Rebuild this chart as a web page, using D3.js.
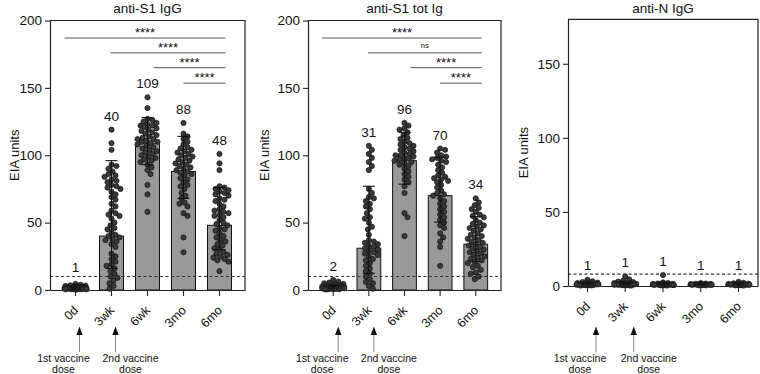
<!DOCTYPE html>
<html>
<head>
<meta charset="utf-8">
<script src="https://cdn.jsdelivr.net/npm/d3@7"></script>
<style>
  body { margin: 0; background: #fff; }
  svg { display: block; font-family: "Liberation Sans", Arial, sans-serif; }
</style>
</head>
<body>
<svg width="760" height="374"></svg>
<script>
// ---- data ----
const timepoints = ["0d", "3wk", "6wk", "3mo", "6mo"];
const panelTitles = ["anti-S1 IgG", "anti-S1 tot Ig", "anti-N IgG"];
const yLabel = "EIA units";
const doseNotes = [["1st vaccine", "dose"], ["2nd vaccine", "dose"]];

// anti-S1 IgG
const s1IggBars = [1, 40, 109, 88, 48];
const s1IggLow = [0.6, 16, 93, 68, 30];
const s1IggHigh = [1.7, 96, 128, 114, 76];
const s1IggDots = [
  [0.3, 0.4, 0.5, 0.5, 0.6, 0.6, 0.7, 0.7, 0.8, 0.8, 0.9, 0.9, 1, 1, 1, 1.1, 1.1, 1.2, 1.2, 1.3, 1.3, 1.4, 1.5, 1.5, 1.6, 1.7, 1.8, 1.9, 2, 2.1, 2.2, 2.4, 2.5, 2.7, 3, 3.2, 3.5, 3.9, 4.5],
  [119, 109, 104, 93, 92, 90, 88, 86, 85, 84, 82, 81, 80, 78, 77, 76, 75, 73, 71, 69, 67, 64, 62, 59, 57, 56, 55, 53, 50, 48, 46, 45, 43, 41, 40, 39, 38, 37, 36, 34, 32, 27, 25, 23, 21, 19, 18, 16, 14, 12, 10, 9, 7, 5, 3, 1],
  [143, 135, 127, 126, 125, 124, 123, 122, 122, 121, 120, 119, 118, 117, 116, 115, 114, 113, 112, 112, 111, 110, 110, 109, 108, 107, 106, 105, 104, 103, 102, 101, 100, 99, 98, 97, 96, 95, 93, 91, 89, 86, 78, 71, 58],
  [124, 116, 114, 112, 110, 108, 106, 105, 104, 103, 102, 101, 100, 99, 98, 97, 96, 95, 94, 93, 92, 91, 90, 89, 88, 87, 86, 85, 83, 82, 80, 78, 77, 75, 72, 70, 68, 65, 64, 62, 57, 55, 39, 28],
  [101, 94, 89, 77, 76, 75, 74, 73, 72, 71, 70, 68, 67, 66, 64, 62, 60, 59, 58, 57, 56, 55, 54, 52, 50, 49, 48, 46, 45, 44, 42, 40, 39, 37, 36, 34, 33, 31, 30, 28, 27, 26, 25, 24, 23, 22, 21, 14]
];
const s1IggSig = [["0d", "6mo", "****"], ["3wk", "6mo", "****"], ["6wk", "6mo", "****"], ["3mo", "6mo", "****"]];

// anti-S1 total Ig
const s1TotBars = [2, 31, 96, 70, 34];
const s1TotLow = [1.3, 12.4, 78.6, 50.4, 21];
const s1TotHigh = [3, 77, 117, 98.4, 54.4];
const s1TotDots = [
  [0.4, 0.5, 0.6, 0.7, 0.8, 0.9, 1, 1, 1.1, 1.2, 1.3, 1.4, 1.5, 1.5, 1.6, 1.7, 1.8, 1.9, 2, 2, 2.1, 2.2, 2.3, 2.4, 2.5, 2.6, 2.8, 3, 3.2, 3.4, 3.7, 4, 4.5, 5, 5.5, 6.3, 7.5],
  [107, 104, 101, 98, 95, 92, 89, 75, 72, 69, 68, 66, 64, 62, 60, 57, 54, 53, 50, 47, 45, 41, 37, 36, 35, 34, 33, 32, 31, 30, 29, 28, 27, 26, 25, 23, 22, 20, 18, 16, 14, 12, 10, 8, 6, 5, 3, 1],
  [124, 122, 120, 119, 117, 115, 113, 112, 110, 109, 108, 107, 106, 105, 104, 103, 102, 101, 100, 100, 99, 98, 98, 97, 96, 95, 94, 93, 92, 90, 88, 86, 84, 82, 80, 77, 72, 57, 54, 40],
  [105, 104, 102, 100, 99, 98, 97, 96, 95, 93, 91, 89, 87, 85, 84, 83, 82, 81, 80, 78, 76, 74, 72, 71, 70, 68, 66, 64, 62, 60, 58, 56, 54, 52, 50, 48, 46, 42, 39, 36, 32, 18],
  [68, 65, 63, 61, 60, 58, 56, 55, 54, 52, 50, 49, 48, 47, 46, 45, 44, 42, 41, 40, 39, 38, 37, 36, 35, 34, 33, 32, 31, 30, 29, 28, 27, 26, 25, 24, 23, 22, 21, 20, 18, 17, 15, 13, 12, 10, 8]
];
const s1TotSig = [["0d", "6mo", "****"], ["3wk", "6mo", "ns"], ["6wk", "6mo", "****"], ["3mo", "6mo", "****"]];

// anti-N IgG
const nIggBars = [1, 1, 1, 1, 1];
const nIggLow = [0.7, 0.7, 0.7, 0.8, 0.7];
const nIggHigh = [1.6, 1.8, 1.5, 1.3, 1.5];
const nIggDots = [
  [0.3, 0.4, 0.5, 0.5, 0.6, 0.7, 0.7, 0.8, 0.8, 0.9, 0.9, 1, 1, 1, 1.1, 1.1, 1.2, 1.2, 1.3, 1.4, 1.5, 1.6, 1.8, 2, 2.3, 2.7, 3.2, 4.2],
  [0.3, 0.4, 0.5, 0.6, 0.6, 0.7, 0.8, 0.8, 0.9, 0.9, 1, 1, 1.1, 1.1, 1.2, 1.3, 1.4, 1.5, 1.6, 1.8, 2, 2.2, 2.6, 3, 3.6, 4.5, 6.5],
  [0.3, 0.4, 0.5, 0.5, 0.6, 0.7, 0.7, 0.8, 0.8, 0.9, 1, 1, 1, 1.1, 1.1, 1.2, 1.3, 1.4, 1.5, 1.7, 2, 2.4, 7.4],
  [0.4, 0.5, 0.6, 0.6, 0.7, 0.8, 0.8, 0.9, 0.9, 1, 1, 1, 1.1, 1.1, 1.2, 1.2, 1.3, 1.4, 1.5, 1.7, 2],
  [0.3, 0.4, 0.5, 0.6, 0.6, 0.7, 0.8, 0.8, 0.9, 1, 1, 1, 1.1, 1.1, 1.2, 1.3, 1.4, 1.6, 1.8, 2.2, 2.8]
];

const cutoffs = [10, 10, 8];
const sigLevels = [187, 176, 165, 153.5];   // y value of each comparison line

// ---- layout ----
const svg = d3.select("svg");
const FONT = 13.5;
const DOT_R = 2.6;
const sigStartNudge = [-11, -1, 6, 0];
const sigEndNudge = 6;

const panels = [
  { title: panelTitles[0], left: 50, right: 245, top: 20.5, bottom: 290, yMax: 200, ticks: [0, 50, 100, 150, 200],
    outer: 0.375, bars: s1IggBars, low: s1IggLow, high: s1IggHigh, dots: s1IggDots, sig: s1IggSig,
    cutoff: cutoffs[0], labelOff: 36, arrowDx: 4 },
  { title: panelTitles[1], left: 308, right: 501, top: 20.5, bottom: 290, yMax: 200, ticks: [0, 50, 100, 150, 200],
    outer: 0.375, bars: s1TotBars, low: s1TotLow, high: s1TotHigh, dots: s1TotDots, sig: s1TotSig,
    cutoff: cutoffs[1], labelOff: 44, arrowDx: 5 },
  { title: panelTitles[2], left: 568, right: 758, top: 19.3, bottom: 286, yMax: 180, ticks: [0, 50, 100, 150],
    outer: 0.183, bars: nIggBars, low: nIggLow, high: nIggHigh, dots: nIggDots, sig: [],
    cutoff: cutoffs[2], labelOff: 45, arrowDx: 8.5 }
];

// simple beeswarm: nudge each dot sideways until it does not sit on an earlier one
function swarm(values, y, r, maxHalf) {
  const placed = [];
  const minD = r * 1.8;
  values.slice().sort((a, b) => b - a).forEach(v => {
    const py = y(v);
    let best = 0, bestD = -1;
    for (let k = 0; k <= maxHalf * 2; k++) {
      const off = (k % 2 ? 1 : -1) * Math.ceil(k / 2);
      let d = Infinity;
      placed.forEach(p => {
        const dd = Math.hypot(p.dx - off, p.py - py);
        if (dd < d) d = dd;
      });
      if (d >= minD) { best = off; bestD = d; break; }
      if (d > bestD + 0.8) { bestD = d; best = off; }
    }
    placed.push({ v: v, dx: best, py: py });
  });
  return placed;
}

panels.forEach(p => {
  const g = svg.append("g");

  const x = d3.scaleBand()
    .domain(timepoints)
    .range([p.left, p.right])
    .paddingInner(1 / 3)
    .paddingOuter(p.outer);
  const bw = x.bandwidth();
  const cx = d => x(d) + bw / 2;

  const y = d3.scaleLinear()
    .domain([0, p.yMax])
    .range([p.bottom, p.top]);

  // title
  g.append("text")
    .attr("x", (p.left + p.right) / 2)
    .attr("y", 12.5)
    .attr("text-anchor", "middle")
    .attr("font-size", "13.5px")
    .attr("fill", "#111")
    .text(p.title);

  // frame (top + right)
  g.append("path")
    .attr("d", `M${p.left},${p.top}H${p.right}V${p.bottom}`)
    .attr("fill", "none")
    .attr("stroke", "#222")
    .attr("stroke-width", 1.2);

  // bars
  g.selectAll(".bar")
    .data(p.bars)
    .enter()
    .append("rect")
    .attr("class", "bar")
    .attr("x", (d, i) => x(timepoints[i]))
    .attr("width", bw)
    .attr("y", d => y(d))
    .attr("height", d => p.bottom - y(d))
    .attr("fill", "#999999")
    .attr("stroke", "#111")
    .attr("stroke-width", 1);

  // dots
  p.dots.forEach((vals, i) => {
    const sw = swarm(vals, y, DOT_R, 11);
    g.selectAll(null)
      .data(sw)
      .enter()
      .append("circle")
      .attr("cx", d => cx(timepoints[i]) + d.dx)
      .attr("cy", d => d.py)
      .attr("r", DOT_R)
      .attr("fill", "#3a3a3a")
      .attr("stroke", "#111")
      .attr("stroke-width", 0.7);
  });

  // error bars
  timepoints.forEach((t, i) => {
    const c = cx(t);
    const eb = g.append("g").attr("stroke", "#111").attr("stroke-width", 1.1);
    eb.append("line").attr("x1", c).attr("x2", c).attr("y1", y(p.low[i])).attr("y2", y(p.high[i]));
    eb.append("line").attr("x1", c - 6).attr("x2", c + 6).attr("y1", y(p.low[i])).attr("y2", y(p.low[i]));
    eb.append("line").attr("x1", c - 6).attr("x2", c + 6).attr("y1", y(p.high[i])).attr("y2", y(p.high[i]));
  });

  // cutoff
  g.append("line")
    .attr("x1", p.left)
    .attr("x2", p.right)
    .attr("y1", y(p.cutoff))
    .attr("y2", y(p.cutoff))
    .attr("stroke", "#333")
    .attr("stroke-width", 1.1)
    .attr("stroke-dasharray", "3,2.5");

  // values above groups
  g.selectAll(".val")
    .data(p.bars)
    .enter()
    .append("text")
    .attr("class", "val")
    .attr("x", (d, i) => cx(timepoints[i]))
    .attr("y", (d, i) => {
      const top = Math.max(d3.max(p.dots[i]), p.high[i]);
      return Math.min(y(top) - 9, y(p.cutoff) - 4.5);
    })
    .attr("text-anchor", "middle")
    .attr("font-size", FONT + "px")
    .attr("fill", "#111")
    .text(d => d);

  // significance lines
  p.sig.forEach((s, k) => {
    const x1 = cx(s[0]) + sigStartNudge[k];
    const x2 = cx(s[1]) + sigEndNudge;
    const ly = y(sigLevels[k]);
    g.append("line")
      .attr("x1", x1).attr("x2", x2)
      .attr("y1", ly).attr("y2", ly)
      .attr("stroke", "#555")
      .attr("stroke-width", 1);
    g.append("text")
      .attr("x", (x1 + x2) / 2)
      .attr("y", s[2] === "ns" ? ly - 5 : ly - 1)
      .attr("text-anchor", "middle")
      .attr("font-size", s[2] === "ns" ? "7.5px" : "13px")
      .attr("fill", "#111")
      .text(s[2]);
  });

  // y axis
  const ya = g.append("g")
    .attr("transform", `translate(${p.left},0)`)
    .call(d3.axisLeft(y).tickValues(p.ticks).tickSize(5).tickSizeOuter(0));
  ya.select(".domain").attr("stroke", "#222").attr("stroke-width", 1.2);
  ya.selectAll(".tick line").attr("stroke", "#222").attr("stroke-width", 1.1);
  ya.selectAll(".tick text")
    .attr("font-size", "13.5px")
    .attr("font-family", "Liberation Sans, Arial, sans-serif")
    .attr("fill", "#111");

  g.append("text")
    .attr("transform", `translate(${p.left - p.labelOff},${(p.top + p.bottom) / 2}) rotate(-90)`)
    .attr("text-anchor", "middle")
    .attr("dy", "0.35em")
    .attr("font-size", "13px")
    .attr("fill", "#111")
    .text(yLabel);

  // x axis
  const xa = g.append("g")
    .attr("transform", `translate(0,${p.bottom})`)
    .call(d3.axisBottom(x).tickSize(6).tickSizeOuter(0));
  xa.select(".domain").attr("stroke", "#222").attr("stroke-width", 1.2);
  xa.selectAll(".tick line").attr("stroke", "#222").attr("stroke-width", 1.1);
  xa.selectAll(".tick text")
    .attr("x", 0)
    .attr("y", 0)
    .attr("dy", null)
    .attr("text-anchor", "end")
    .attr("transform", "translate(3.5,21) rotate(-45)")
    .attr("font-size", "12.5px")
    .attr("font-family", "Liberation Sans, Arial, sans-serif")
    .attr("fill", "#111");

  // vaccine dose arrows
  doseNotes.forEach((lines, k) => {
    const ax = cx(timepoints[k]) + p.arrowDx;
    g.append("line")
      .attr("x1", ax).attr("x2", ax)
      .attr("y1", 334).attr("y2", 352)
      .attr("stroke", "#888")
      .attr("stroke-width", 1);
    g.append("path")
      .attr("d", `M${ax - 3.2},335L${ax + 3.2},335L${ax},326.5Z`)
      .attr("fill", "#111");
    const tx = k === 0 ? ax - 16 : ax + 15;
    lines.forEach((line, j) => {
      g.append("text")
        .attr("x", tx)
        .attr("y", 361.5 + j * 11.5)
        .attr("text-anchor", "middle")
        .attr("font-size", "10.5px")
        .attr("fill", "#111")
        .text(line);
    });
  });
});
</script>
</body>
</html>
